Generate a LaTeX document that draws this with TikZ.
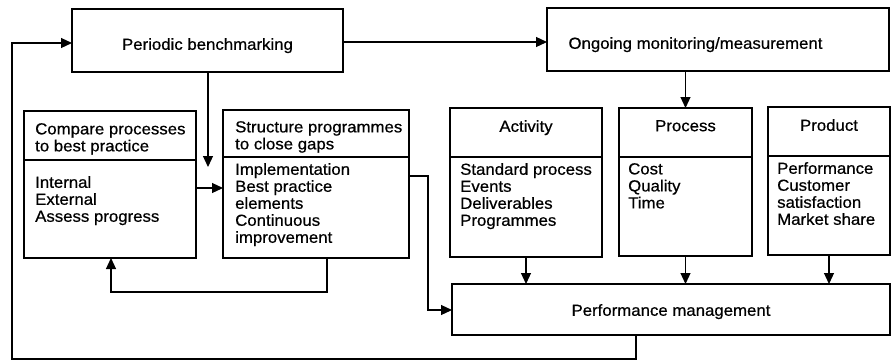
\documentclass[tikz,border=0pt]{standalone}
\usepackage{fontspec}
\setmainfont{Liberation Sans}[FakeStretch=1.05,FakeBold=0.6]
\usetikzlibrary{arrows.meta}
\begin{document}
\begin{tikzpicture}[x=1pt,y=-1pt,
  box/.style={draw,line width=1.3pt,inner sep=0pt,outer sep=0pt,anchor=north west},
  lbl/.style={inner sep=0pt,font=\fontsize{16}{17}\selectfont,align=left,anchor=north west},
  hdr/.style={inner sep=0pt,font=\fontsize{16}{17}\selectfont,align=center,anchor=north},
  conn/.style={line width=1.2pt},
  arr/.style={conn,-{Triangle[length=11pt,width=10pt]}}]
\useasboundingbox (0,0) rectangle (892,359);

% boxes
\node[box,minimum width=271pt,minimum height=63pt] (pb) at (72,9) {};
\node[box,minimum width=342pt,minimum height=63pt] (om) at (547,8) {};
\node[box,minimum width=172pt,minimum height=147pt] (cmp) at (24,111) {};
\node[box,minimum width=186pt,minimum height=148pt] (str) at (223,110) {};
\node[box,minimum width=152pt,minimum height=149pt] (act) at (450,108) {};
\node[box,minimum width=133pt,minimum height=148pt] (pro) at (619,108) {};
\node[box,minimum width=122pt,minimum height=148pt] (prd) at (768,107) {};
\node[box,minimum width=438pt,minimum height=51pt] (pm) at (452,284) {};

% dividers
\coordinate (dc) at (0,160);
\coordinate (ds) at (0,157);
\coordinate (da) at (0,157);
\coordinate (dp) at (0,157);
\coordinate (dd) at (0,156);
\draw[line width=1.3pt] (cmp.west |- dc) -- (cmp.east |- dc);
\draw[line width=1.3pt] (str.west |- ds) -- (str.east |- ds);
\draw[line width=1.3pt] (act.west |- da) -- (act.east |- da);
\draw[line width=1.3pt] (pro.west |- dp) -- (pro.east |- dp);
\draw[line width=1.3pt] (prd.west |- dd) -- (prd.east |- dd);

% texts
\node[hdr] (pbt) at (207.5,38) {Periodic benchmarking};
\node[hdr] (omt) at (695.5,37) {Ongoing monitoring/measurement};
\node[lbl] (cmph) at (35,123) {Compare processes\\to best practice};
\node[lbl] (cmpb) at (35,176) {Internal\\External\\Assess progress};
\node[lbl] (strh) at (235,121) {Structure programmes\\to close gaps};
\node[lbl] (strb) at (235,163) {Implementation\\Best practice\\elements\\Continuous\\improvement};
\node[hdr] (acth) at (526,120) {Activity};
\node[lbl] (actb) at (460,163) {Standard process\\Events\\Deliverables\\Programmes};
\node[hdr] (proh) at (685.5,120) {Process};
\node[lbl] (prob) at (628,163) {Cost\\Quality\\Time};
\node[hdr] (prdh) at (829,119) {Product};
\node[lbl] (prdb) at (777,162) {Performance\\Customer\\satisfaction\\Market share};
\node[hdr] (pmt) at (671,304) {Performance management};

% connector helper coordinates
\coordinate (pbdown) at (208,167);
\coordinate (ytop) at (0,42);
\coordinate (yleft) at (0,43);
\coordinate (ycs) at (0,188);
\coordinate (xfb) at (327,0);
\coordinate (fb1) at (327,292);
\coordinate (fb2) at (111,292);
\coordinate (ysp) at (0,176);
\coordinate (sp1) at (428,176);
\coordinate (sp2) at (428,310);
\coordinate (ypm) at (0,310);
\coordinate (xbot) at (636,0);
\coordinate (bt1) at (636,359);
\coordinate (bt2) at (12,359);
\coordinate (bt3) at (12,43);

% connectors
\draw[arr] (pb.south -| pbdown) -- (pbdown);
\draw[arr] (pb.east |- ytop) -- (om.west |- ytop);
\draw[arr] (om.south -| pro.north) -- (pro.north);
\draw[arr] (cmp.east |- ycs) -- (str.west |- ycs);
\draw[arr] (str.south -| xfb) -- (fb1) -- (fb2) -- (cmp.south -| fb2);
\draw[arr] (str.east |- ysp) -- (sp1) -- (sp2) -- (pm.west |- ypm);
\draw[arr] (act.south) -- (pm.north -| act.south);
\draw[arr] (pro.south) -- (pm.north -| pro.south);
\draw[arr] (prd.south) -- (pm.north -| prd.south);
\draw[arr] (pm.south -| xbot) -- (bt1) -- (bt2) -- (bt3) -- (pb.west |- yleft);
\end{tikzpicture}
\end{document}
